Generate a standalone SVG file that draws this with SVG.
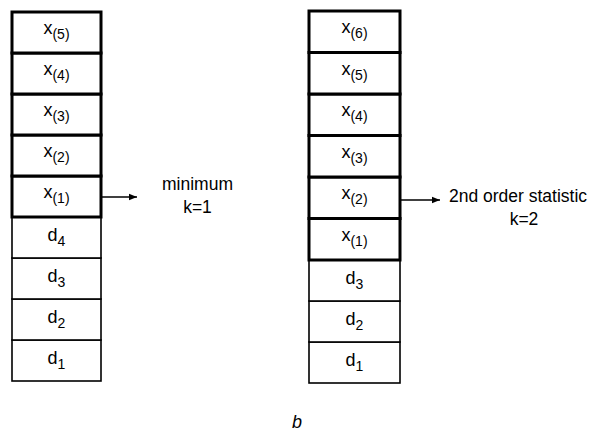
<svg xmlns="http://www.w3.org/2000/svg" width="599" height="435" viewBox="0 0 599 435">
<defs>
<style>
.thick{fill:#fff;stroke:#000;stroke-width:3}
.thin{fill:#fff;stroke:#000;stroke-width:1.6}
.lbl{font-family:"Liberation Sans",Arial,sans-serif;font-size:18px;text-anchor:middle;fill:#000}
.sub{font-size:14px}
.note{font-family:"Liberation Sans",Arial,sans-serif;font-size:17.5px;text-anchor:middle;fill:#000}
.conn{stroke:#000;stroke-width:1.5;fill:none}
</style>
<marker id="ah" viewBox="0 0 10 10" refX="10" refY="5" markerWidth="8" markerHeight="8" markerUnits="userSpaceOnUse" orient="auto">
<path d="M0,1 L10,5 L0,9 Z" fill="#000"/>
</marker>
</defs>
<rect width="599" height="435" fill="#fff"/>

<g id="left-column">
<g id="L-d1"><rect class="thin" x="12" y="340" width="89" height="41"/><text class="lbl" x="56.5" y="364">d<tspan class="sub" dy="5">1</tspan></text></g>
<g id="L-d2"><rect class="thin" x="12" y="299" width="89" height="41"/><text class="lbl" x="56.5" y="323">d<tspan class="sub" dy="5">2</tspan></text></g>
<g id="L-d3"><rect class="thin" x="12" y="258" width="89" height="41"/><text class="lbl" x="56.5" y="282">d<tspan class="sub" dy="5">3</tspan></text></g>
<g id="L-d4"><rect class="thin" x="12" y="217" width="89" height="41"/><text class="lbl" x="56.5" y="241">d<tspan class="sub" dy="5">4</tspan></text></g>
<g id="L-x1"><rect class="thick" x="12" y="176" width="89" height="41"/><text class="lbl" x="56.5" y="198">x<tspan class="sub" dy="5">(1)</tspan></text></g>
<g id="L-x2"><rect class="thick" x="12" y="135" width="89" height="41"/><text class="lbl" x="56.5" y="157">x<tspan class="sub" dy="5">(2)</tspan></text></g>
<g id="L-x3"><rect class="thick" x="12" y="94" width="89" height="41"/><text class="lbl" x="56.5" y="116">x<tspan class="sub" dy="5">(3)</tspan></text></g>
<g id="L-x4"><rect class="thick" x="12" y="53" width="89" height="41"/><text class="lbl" x="56.5" y="75">x<tspan class="sub" dy="5">(4)</tspan></text></g>
<g id="L-x5"><rect class="thick" x="12" y="12" width="89" height="41"/><text class="lbl" x="56.5" y="34">x<tspan class="sub" dy="5">(5)</tspan></text></g>
</g>

<g id="right-column">
<g id="R-d1"><rect class="thin" x="309" y="342" width="91" height="41"/><text class="lbl" x="354.5" y="366">d<tspan class="sub" dy="5">1</tspan></text></g>
<g id="R-d2"><rect class="thin" x="309" y="301" width="91" height="41"/><text class="lbl" x="354.5" y="325">d<tspan class="sub" dy="5">2</tspan></text></g>
<g id="R-d3"><rect class="thin" x="309" y="260" width="91" height="41"/><text class="lbl" x="354.5" y="284">d<tspan class="sub" dy="5">3</tspan></text></g>
<g id="R-x1"><rect class="thick" x="309" y="218.5" width="91" height="41.5"/><text class="lbl" x="354.5" y="241">x<tspan class="sub" dy="5">(1)</tspan></text></g>
<g id="R-x2"><rect class="thick" x="309" y="177" width="91" height="41.5"/><text class="lbl" x="354.5" y="199">x<tspan class="sub" dy="5">(2)</tspan></text></g>
<g id="R-x3"><rect class="thick" x="309" y="135.5" width="91" height="41.5"/><text class="lbl" x="354.5" y="158">x<tspan class="sub" dy="5">(3)</tspan></text></g>
<g id="R-x4"><rect class="thick" x="309" y="94" width="91" height="41.5"/><text class="lbl" x="354.5" y="116">x<tspan class="sub" dy="5">(4)</tspan></text></g>
<g id="R-x5"><rect class="thick" x="309" y="52.5" width="91" height="41.5"/><text class="lbl" x="354.5" y="75">x<tspan class="sub" dy="5">(5)</tspan></text></g>
<g id="R-x6"><rect class="thick" x="309" y="11" width="91" height="41.5"/><text class="lbl" x="354.5" y="33">x<tspan class="sub" dy="5">(6)</tspan></text></g>
</g>

<g id="connectors">
<line class="conn" x1="101" y1="197" x2="137" y2="197" marker-end="url(#ah)"/>
<line class="conn" x1="400" y1="200" x2="440" y2="200" marker-end="url(#ah)"/>
</g>

<g id="annotations">
<g id="ann-min"><text class="note" x="197.5" y="190">minimum</text><text class="note" x="197.5" y="213">k=1</text></g>
<g id="ann-2nd"><text class="note" x="518" y="202">2nd order statistic</text><text class="note" x="524" y="225">k=2</text></g>
<text x="297" y="428" font-family="'Liberation Sans',Arial,sans-serif" font-size="18" font-style="italic" text-anchor="middle">b</text>
</g>
</svg>
